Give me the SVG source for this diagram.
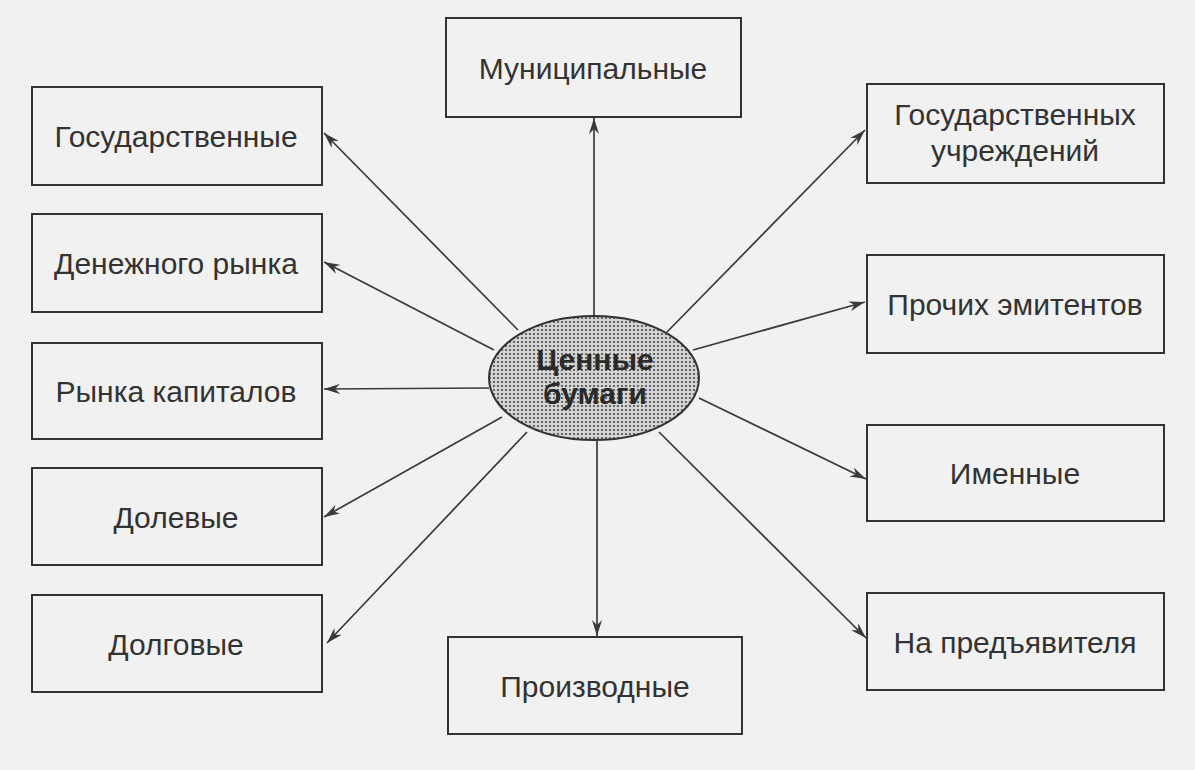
<svg xmlns="http://www.w3.org/2000/svg" width="1195" height="770" viewBox="0 0 1195 770">
  <style>
    .box rect { fill: #f1f1f1; stroke: #333; stroke-width: 2; }
    .box text { font-family: "Liberation Sans", Arial, sans-serif; font-size: 30px; fill: #333; text-anchor: middle; }
    .conn line { stroke: #3a3a3a; stroke-width: 1.7; marker-end: url(#arr); }
    .center text { font-family: "Liberation Sans", Arial, sans-serif; font-size: 30px; font-weight: bold; fill: #2a2a2a; text-anchor: middle; }
  </style>
  <defs>
    <pattern id="dots" width="4" height="4" patternUnits="userSpaceOnUse">
      <rect width="4" height="4" fill="#d4d4d4"/>
      <circle cx="2" cy="2" r="1.1" fill="#4a4a4a"/>
    </pattern>
    <marker id="arr" viewBox="0 0 16 10" refX="16" refY="5" markerWidth="16" markerHeight="10" markerUnits="userSpaceOnUse" orient="auto">
      <path d="M0,0 L16,5 L0,10 L5,5 z" fill="#3a3a3a"/>
    </marker>
  </defs>
  <rect width="1195" height="770" fill="#f1f1f1"/>

  <g id="connectors" class="conn">
    <line x1="594" y1="316" x2="594" y2="118"/>
    <line x1="597" y1="441" x2="597" y2="636"/>
    <line x1="518" y1="330" x2="324" y2="133"/>
    <line x1="494" y1="350" x2="324" y2="262"/>
    <line x1="489" y1="388" x2="324" y2="389"/>
    <line x1="502" y1="417" x2="324" y2="517"/>
    <line x1="527" y1="432" x2="327" y2="643"/>
    <line x1="667" y1="332" x2="865" y2="130"/>
    <line x1="693" y1="350" x2="865" y2="302"/>
    <line x1="699" y1="398" x2="866" y2="479"/>
    <line x1="659" y1="432" x2="866" y2="638"/>
  </g>

  <g id="center" class="center">
    <ellipse cx="594" cy="378" rx="105" ry="62" fill="url(#dots)" stroke="#333" stroke-width="2"/>
    <text x="595" y="370">Ценные</text>
    <text x="595" y="404">бумаги</text>
  </g>

  <g id="n-municipal" class="box">
    <rect x="446" y="18" width="295" height="99"/>
    <text x="593" y="79">Муниципальные</text>
  </g>
  <g id="n-derivative" class="box">
    <rect x="448" y="637" width="294" height="97"/>
    <text x="595" y="697">Производные</text>
  </g>

  <g id="n-state" class="box">
    <rect x="32" y="87" width="290" height="98"/>
    <text x="176" y="147">Государственные</text>
  </g>
  <g id="n-money" class="box">
    <rect x="32" y="214" width="290" height="98"/>
    <text x="176" y="274">Денежного рынка</text>
  </g>
  <g id="n-capital" class="box">
    <rect x="32" y="343" width="290" height="96"/>
    <text x="176" y="402">Рынка капиталов</text>
  </g>
  <g id="n-equity" class="box">
    <rect x="32" y="468" width="290" height="97"/>
    <text x="176" y="528">Долевые</text>
  </g>
  <g id="n-debt" class="box">
    <rect x="32" y="595" width="290" height="97"/>
    <text x="176" y="655">Долговые</text>
  </g>

  <g id="n-institutions" class="box">
    <rect x="867" y="84" width="297" height="99"/>
    <text x="1015" y="125">Государственных</text>
    <text x="1015" y="161">учреждений</text>
  </g>
  <g id="n-other" class="box">
    <rect x="867" y="255" width="297" height="98"/>
    <text x="1015" y="315">Прочих эмитентов</text>
  </g>
  <g id="n-registered" class="box">
    <rect x="867" y="425" width="297" height="96"/>
    <text x="1015" y="484">Именные</text>
  </g>
  <g id="n-bearer" class="box">
    <rect x="867" y="593" width="297" height="97"/>
    <text x="1015" y="653">На предъявителя</text>
  </g>
</svg>
